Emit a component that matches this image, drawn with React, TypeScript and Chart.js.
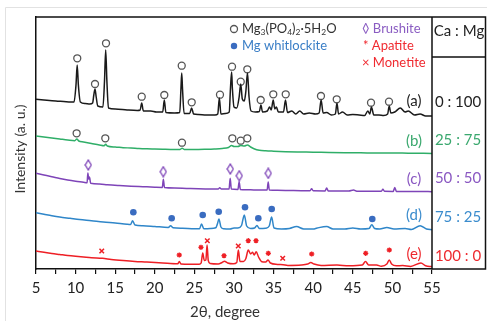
import React, { useEffect, useRef } from 'react';
import { Chart, registerables } from 'chart.js';

Chart.register(...registerables);

type P = [number, number];

// x tick labels (2θ, degree)
const xTickLabels: number[] = [5, 10, 15, 20, 25, 30, 35, 40, 45, 50, 55];
const sampleLabels: string[] = ['(a)', '(b)', '(c)', '(d)', '(e)'];
const ratioLabels: string[] = ['0 : 100', '25 : 75', '50 : 50', '75 : 25', '100 : 0'];

// (a) Ca:Mg 0:100
const traceA: P[] = [[5,169.7],[6,169],[7.5,168],[8.5,167.5],[9.4,167],[9.8,167],[10.05,184],[10.2,204],[10.35,184],[10.6,167],[11.2,165.5],[11.8,165],[12.15,166],[12.3,174],[12.45,180],[12.6,172],[12.8,163],[13.45,162],[13.65,188],[13.8,219],[13.95,188],[14.15,161],[15,160],[16.5,159],[17.8,158.5],[18.15,159],[18.35,166],[18.55,158],[19.5,158],[20.2,157],[21.0,157],[21.2,169],[21.4,156.5],[22.5,156],[23.15,156.5],[23.3,180],[23.4,196],[23.5,180],[23.7,155.5],[24.4,155.5],[24.65,161],[24.9,155],[25.5,154.5],[26.5,154],[27.6,154],[27.95,155],[28.15,171],[28.35,155],[28.9,155.5],[29.4,157],[29.55,180],[29.7,197],[29.8,180],[30.0,162],[30.35,161],[30.65,172],[30.85,185],[31.05,170],[31.3,168],[31.5,178],[31.7,196],[31.9,172],[32.15,158],[32.7,157],[33.2,157.5],[33.4,164],[33.6,157],[34.2,158],[34.5,162],[34.7,159],[34.95,169],[35.15,160],[35.35,162],[35.6,157],[36.25,157],[36.5,169],[36.75,156.5],[37.3,158],[37.8,155],[38.3,158],[38.8,155],[39.5,156],[40.3,155],[40.75,156],[41.0,169],[41.25,156],[41.7,156.5],[42.3,154],[42.8,155],[43.0,166],[43.2,155],[43.7,157],[44.3,154],[45,154.5],[45.8,154],[46.5,153.5],[46.9,158],[47.15,155],[47.35,162],[47.65,154],[48.3,154],[48.9,153.5],[49.4,155],[49.6,163],[49.8,156],[50.3,157],[51.0,161],[51.6,157],[52.0,158],[52.8,154],[53.5,155],[54.2,153],[55,153]];

// (b) Ca:Mg 25:75
const traceB: P[] = [[5,133],[6,132],[7,131],[8,130],[9,129],[9.9,128.3],[10.15,130],[10.4,128],[11,127],[12,125.5],[13,124],[13.6,123.2],[13.8,124.8],[14,123],[15,122],[16,121.3],[17,121],[18,120.5],[19,120.2],[20,120],[21,119.8],[22,119.6],[23.2,119.6],[23.45,120.8],[23.7,119.6],[24.5,119.5],[25.5,119.5],[26.5,119.7],[27.5,120],[28.5,120.5],[29.3,121.5],[29.7,123.5],[30,122.5],[30.5,122.5],[30.85,123.5],[31.3,123],[31.7,124],[32.1,122],[32.6,120],[33.2,118.8],[34,118.2],[35,117.8],[36.5,117.3],[38,117],[40,116.8],[42,116.5],[44,116.3],[46,116.2],[48,116],[50,116],[52,115.8],[55,115.6]];

// (c) Ca:Mg 50:50
const traceC: P[] = [[5,95.7],[6,94],[7,92.3],[8,90.5],[9,89],[10,87.8],[11,86.8],[11.45,86.3],[11.55,96],[11.65,90],[11.75,92],[11.9,85.8],[13,85],[14,84.3],[15.5,83.5],[17,82.8],[18.5,82.3],[20,81.8],[20.95,81.6],[21.08,89.7],[21.22,81.5],[22.5,81],[24,80.6],[25.5,80.2],[27,80],[28,80],[28.2,81.3],[28.4,80],[29.38,80],[29.52,90.7],[29.66,80],[30.5,79.6],[30.65,87.3],[30.8,79.6],[31.5,79.3],[32.5,79.1],[33.5,79],[34.18,79],[34.32,87],[34.46,79],[35.5,78.7],[37,78.5],[38.5,78.3],[39.6,78.2],[39.8,80.3],[40,78.2],[41.5,78.1],[41.7,81],[41.9,78],[43,78],[44.5,78],[45.1,79],[45.5,77.8],[47,77.7],[48.6,77.7],[48.8,79.8],[49,77.7],[50.1,77.6],[50.3,81.5],[50.5,77.6],[52,77.5],[53.5,77.5],[55,77.3]];

// (d) Ca:Mg 75:25
const traceD: P[] = [[5,56.3],[6,54.8],[7,53.3],[8,52],[9.3,50.7],[10.5,49.5],[12,48.3],[13.5,47],[15,46],[16.5,44.8],[16.95,44.6],[17.2,48.2],[17.5,44],[18.5,43.3],[20,42.5],[21.7,41.6],[22,43.2],[22.3,41.3],[23.5,40.8],[25,40.3],[25.65,40.3],[25.9,45],[26.2,40.2],[27,40.5],[27.7,41.2],[27.9,45],[28.1,50],[28.35,42],[28.7,40.3],[29.5,40],[30.0,41],[30.5,41],[30.95,43.5],[31.3,54],[31.6,43],[32.1,40.5],[32.6,41],[32.9,43.5],[33.2,40.5],[34,40.8],[34.45,43],[34.75,52],[35.05,41],[36,40],[37,40.5],[37.9,42.5],[38.8,40],[40,40],[40.5,41],[41.7,42.5],[42.5,40],[44,40],[45,41],[46,40],[47.05,40.5],[47.4,44.3],[47.75,40.5],[48.4,40],[49.3,41.5],[50.2,40],[51.6,40.5],[52.4,39.5],[53.5,43.3],[54.3,40],[55,39.3]];

// (e) Ca:Mg 100:0
const traceE: P[] = [[5,18],[6,16.7],[7,15.5],[8,14.5],[9,13.5],[10,12.7],[11,12],[12,11.3],[13.4,10.7],[14.5,9.6],[16,8.5],[17.5,7.6],[19,7],[21,6],[22.9,5.2],[23.1,7.5],[23.3,5.1],[24.5,4.7],[25.6,4.8],[25.85,6],[26.05,16],[26.25,8.5],[26.45,9],[26.6,24],[26.75,8.5],[27,5.5],[28,5],[28.5,6.5],[28.8,7.7],[29.2,6],[29.9,5.2],[30.35,6.5],[30.55,19],[30.75,7.5],[31.2,7.5],[31.5,10.5],[31.8,19],[32.1,15],[32.35,16.7],[32.55,14],[32.8,17.3],[33.1,12],[33.5,7.3],[34,7],[34.3,9],[34.6,6],[35.5,4.6],[36.2,4.2],[36.8,3.6],[38.5,4],[39.3,5],[39.7,6.5],[40.1,5],[41,3.6],[43,4],[44.5,3.2],[46.2,4],[46.6,7.5],[47,4],[48,4],[48.6,2.8],[49.3,5],[49.6,9],[49.9,5],[50.5,3.2],[51.3,3.4],[52.3,2.6],[53.6,6],[54.2,3.2],[55,2.4]];

// phase markers
const mgPhosphateA: P[] = [[10.21,210.7],[12.45,185],[13.84,225.7],[18.35,172.3],[21.2,174],[23.4,203.3],[24.66,166.7],[28.23,174.3],[29.75,202.3],[30.85,187.3],[31.68,199.7],[33.37,169],[34.96,174.7],[36.53,174.7],[40.98,173],[42.97,169.7],[47.3,166.3],[49.57,167.3]];
const mgPhosphateB: P[] = [[10.13,135.7],[13.75,130.7],[23.43,126.3],[29.79,130.7],[30.85,128.3],[31.68,130.7]];
const brushiteC: P[] = [[11.6,104],[21.07,97.3],[29.53,100],[30.67,93.3],[34.33,95.7]];
const whitlockiteD: P[] = [[17.29,56.7],[22.13,50.7],[26.05,54],[28.07,57.3],[31.39,61.7],[33.07,50.7],[34.76,60],[47.46,50]];
const apatiteE: P[] = [[23.09,14],[25.83,21.7],[28.74,13.3],[31.8,28.3],[32.78,28.3],[34.33,15.7],[39.81,15],[46.63,15.7],[49.61,19]];
const monetiteE: P[] = [[13.3,18],[26.63,28.3],[30.54,23],[36.15,10.7]];

const COL = {
  a: '#1a1a1a',
  b: '#2fae68',
  c: '#7e44b8',
  d: '#2f86c9',
  e: '#ee1f25',
  circle: '#555555',
  dot: '#3a6cc0',
};
const LABEL_COL = ['#222222', '#3aa86e', '#8a58c2', '#3b8ccd', '#ee2a2f'];
const FONT = 'Lato, "Open Sans", sans-serif';

const toXY = (arr: P[]) => arr.map(([x, y]) => ({ x, y }));

function makeDiamond(): HTMLCanvasElement {
  const c = document.createElement('canvas');
  c.width = 8;
  c.height = 12;
  const g = c.getContext('2d')!;
  g.fillStyle = '#fff';
  g.strokeStyle = COL.c;
  g.lineWidth = 1.3;
  g.beginPath();
  g.moveTo(4, 1);
  g.lineTo(7, 6);
  g.lineTo(4, 11);
  g.lineTo(1, 6);
  g.closePath();
  g.fill();
  g.stroke();
  return c;
}

function drawRich(ctx: CanvasRenderingContext2D, parts: [string, boolean][], x: number, y: number, size: number) {
  let cx = x;
  ctx.textAlign = 'left';
  ctx.textBaseline = 'middle';
  for (const [t, sub] of parts) {
    const s = sub ? size * 0.65 : size;
    ctx.font = `${s}px ${FONT}`;
    ctx.fillText(t, cx, sub ? y + size * 0.28 : y);
    cx += ctx.measureText(t).width;
  }
}

const annotPlugin = {
  id: 'annot',
  afterDraw(chart: any) {
    const { ctx, chartArea: a } = chart;
    ctx.save();
    // faint outer frame
    ctx.strokeStyle = '#e2e2e2';
    ctx.lineWidth = 1;
    ctx.beginPath();
    ctx.moveTo(5.5, 321);
    ctx.lineTo(5.5, 7.5);
    ctx.lineTo(487, 7.5);
    ctx.stroke();

    // plot box top/right + table
    ctx.strokeStyle = '#111';
    ctx.lineWidth = 1.5;
    ctx.beginPath();
    ctx.moveTo(a.left, a.top);
    ctx.lineTo(485.5, a.top);
    ctx.lineTo(485.5, a.bottom);
    ctx.lineTo(a.right, a.bottom);
    ctx.moveTo(a.right, a.top);
    ctx.lineTo(a.right, a.bottom);
    ctx.moveTo(a.right, 57);
    ctx.lineTo(485.5, 57);
    ctx.stroke();

    // table texts
    ctx.textAlign = 'center';
    ctx.textBaseline = 'middle';
    ctx.font = `15px ${FONT}`;
    ctx.fillStyle = '#222';
    ctx.fillText('Ca : Mg', 459, 31);
    const rowY = [102, 140, 178, 217, 256];
    const labY = [101, 141, 179, 215, 254];
    ratioLabels.forEach((t, i) => {
      ctx.fillStyle = LABEL_COL[i];
      ctx.fillText(t, 458, rowY[i]);
      ctx.fillText(sampleLabels[i], 414, labY[i]);
    });

    // legend
    ctx.lineWidth = 1.3;
    ctx.strokeStyle = COL.circle;
    ctx.fillStyle = '#fff';
    ctx.beginPath();
    ctx.arc(234, 29, 3.5, 0, Math.PI * 2);
    ctx.fill();
    ctx.stroke();
    ctx.fillStyle = '#333';
    drawRich(ctx, [['Mg', false], ['3', true], ['(PO', false], ['4', true], [')', false], ['2', true], ['·5H', false], ['2', true], ['O', false]], 242, 29, 13);

    ctx.fillStyle = COL.dot;
    ctx.beginPath();
    ctx.arc(234, 46, 3.2, 0, Math.PI * 2);
    ctx.fill();
    ctx.fillStyle = '#3a7ec6';
    ctx.font = `13px ${FONT}`;
    ctx.textAlign = 'left';
    ctx.fillText('Mg whitlockite', 242, 46);

    ctx.fillStyle = '#8a5cc2';
    ctx.fillText('\u25CA Brushite', 362, 29);
    ctx.fillStyle = '#f02a30';
    ctx.fillText('* Apatite', 363, 46);
    ctx.fillText('\u00D7 Monetite', 362, 63);

    // y title
    ctx.save();
    ctx.translate(20, 149);
    ctx.rotate(-Math.PI / 2);
    ctx.textAlign = 'center';
    ctx.fillStyle = '#333';
    ctx.font = `14px ${FONT}`;
    ctx.fillText('Intensity (a. u.)', 0, 0);
    ctx.restore();

    // x title
    ctx.textAlign = 'center';
    ctx.fillStyle = '#333';
    ctx.font = `15px ${FONT}`;
    ctx.fillText('2\u03B8, degree', 225, 312);
    ctx.restore();
  },
};

export default function App() {
  const ref = useRef<HTMLCanvasElement | null>(null);
  useEffect(() => {
    if (!ref.current) return;
    const diamond = makeDiamond();
    const line = (data: P[], color: string) => ({
      type: 'line' as const,
      data: toXY(data),
      borderColor: color,
      borderWidth: 1.5,
      pointRadius: 0,
      cubicInterpolationMode: 'monotone' as const,
      fill: false,
    });
    const marks = (data: P[], extra: any) => ({
      type: 'line' as const,
      data: toXY(data),
      showLine: false,
      pointRadius: 3.5,
      pointBorderWidth: 1.3,
      ...extra,
    });
    const chart = new Chart(ref.current, {
      type: 'line',
      data: {
        datasets: [
          line(traceA, COL.a),
          line(traceB, COL.b),
          line(traceC, COL.c),
          line(traceD, COL.d),
          line(traceE, COL.e),
          marks(mgPhosphateA, { pointStyle: 'circle', pointBorderColor: COL.circle, pointBackgroundColor: '#fff' }),
          marks(mgPhosphateB, { pointStyle: 'circle', pointBorderColor: COL.circle, pointBackgroundColor: '#fff' }),
          marks(brushiteC, { pointStyle: diamond, pointRadius: 5 }),
          marks(whitlockiteD, { pointStyle: 'circle', pointRadius: 3.3, pointBorderWidth: 0, pointBackgroundColor: COL.dot, pointBorderColor: COL.dot }),
          marks(apatiteE, { pointStyle: 'star', pointRadius: 2.6, pointBorderWidth: 1.3, pointBorderColor: COL.e, pointBackgroundColor: COL.e }),
          marks(monetiteE, { pointStyle: 'crossRot', pointRadius: 3.2, pointBorderWidth: 1.5, pointBorderColor: COL.e }),
        ] as any,
      },
      options: {
        responsive: false,
        animation: false,
        events: [],
        layout: { padding: { top: 17, right: 55, left: 0, bottom: 0 } },
        plugins: { legend: { display: false }, tooltip: { enabled: false } },
        scales: {
          x: {
            type: 'linear',
            min: 5,
            max: 55,
            afterFit: (s: any) => { s.height = 52; },
            ticks: {
              stepSize: 2.5,
              autoSkip: false,
              maxRotation: 0,
              padding: 5,
              color: '#222',
              font: { family: FONT, size: 15 },
              callback: (v: any) => (xTickLabels.includes(Number(v)) ? String(v) : ''),
            },
            grid: { display: true, drawOnChartArea: false, drawTicks: true, tickLength: 5, color: '#111', lineWidth: 1.2 },
            border: { display: true, color: '#111', width: 1.5 },
          },
          y: {
            type: 'linear',
            min: 0,
            max: 252,
            afterFit: (s: any) => { s.width = 36; },
            ticks: { display: false },
            grid: { display: false },
            border: { display: true, color: '#111', width: 1.5 },
          },
        },
      } as any,
      plugins: [annotPlugin],
    });
    return () => chart.destroy();
  }, []);
  return (
    <div style={{ position: 'fixed', left: 0, top: 0, width: 487, height: 321, background: '#fff' }}>
      <canvas ref={ref} width={487} height={321} style={{ display: 'block' }} />
    </div>
  );
}
